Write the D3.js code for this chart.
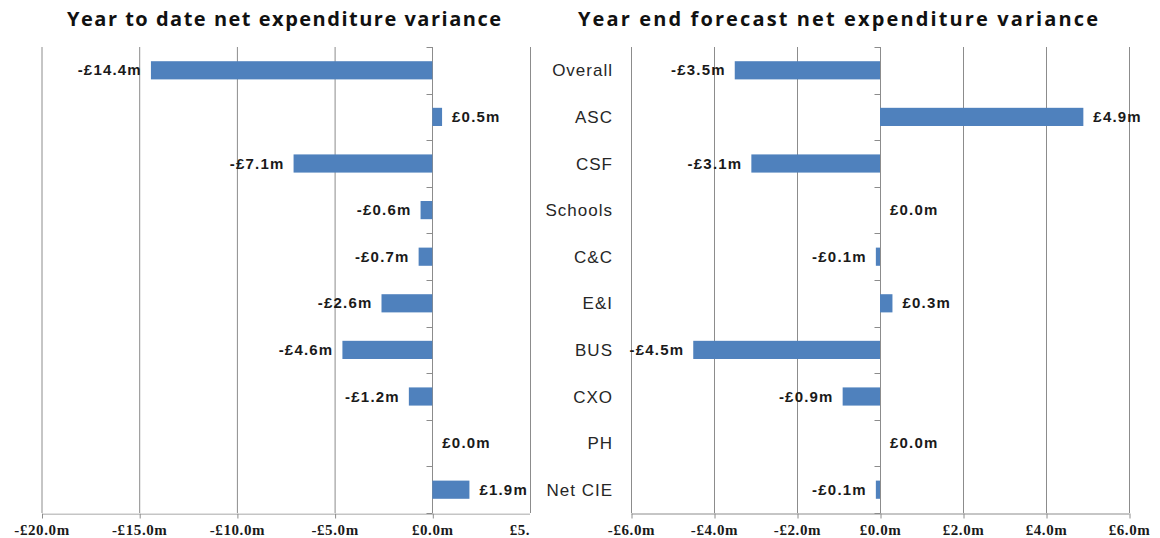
<!DOCTYPE html>
<html>
<head>
<meta charset="utf-8">
<script src="https://cdn.jsdelivr.net/npm/d3@7"></script>
<style>
  body { margin: 0; background: #fff; }
  svg { display: block; }
</style>
</head>
<body>
<div id="chart"></div>
<script>
// ---- data ----
const categories = ["Overall", "ASC", "CSF", "Schools", "C&C", "E&I", "BUS", "CXO", "PH", "Net CIE"];
const ytdValues = [-14.4, 0.5, -7.1, -0.6, -0.7, -2.6, -4.6, -1.2, 0.0, 1.9];
const forecastValues = [-3.5, 4.9, -3.1, 0.0, -0.1, 0.3, -4.5, -0.9, 0.0, -0.1];
const ytdTicks = [-20, -15, -10, -5, 0, 5];
const forecastTicks = [-6, -4, -2, 0, 2, 4, 6];
const ytdTitle = "Year to date net expenditure variance";
const forecastTitle = "Year end forecast net expenditure variance";

const width = 1160, height = 538;
const plotTop = 47, plotBottom = 513;
const barColor = "#4f81bd";
const gridColor = "#8c8c8c";

const svg = d3.select("#chart")
  .append("svg")
    .attr("width", width)
    .attr("height", height);

svg.append("rect").attr("width", width).attr("height", height).attr("fill", "#fff");

// money format, e.g. -£14.4m
function money(v) {
  let s = "£" + Math.abs(v).toFixed(1) + "m";
  return v < 0 ? "-" + s : s;
}

svg.append("defs").append("clipPath")
    .attr("id", "leftClip")
  .append("rect")
    .attr("x", 0).attr("y", 0)
    .attr("width", 530).attr("height", height);

function drawPanel(values, ticks, xRange, title, titleX, titleW, clip) {
  let g = svg.append("g");

  let x = d3.scaleLinear()
    .domain([ticks[0], ticks[ticks.length - 1]])
    .range(xRange);

  // band without padding -> boundaries for the small ticks
  let yBand = d3.scaleBand()
    .domain(categories)
    .range([plotTop, plotBottom]);

  // bars
  let y = d3.scaleBand()
    .domain(categories)
    .range([plotTop, plotBottom])
    .paddingInner(0.61)
    .paddingOuter(0.305);

  // vertical gridlines (not at zero)
  g.selectAll(".grid")
    .data(ticks.filter(t => t !== 0))
    .enter()
    .append("line")
      .attr("x1", d => x(d) + 0.5)
      .attr("x2", d => x(d) + 0.5)
      .attr("y1", plotTop)
      .attr("y2", plotBottom)
      .attr("stroke", gridColor)
      .attr("stroke-width", 1);

  // bottom axis
  let axisG = g.append("g")
    .attr("transform", "translate(0," + (plotBottom + 0.5) + ")")
    .call(d3.axisBottom(x)
      .tickValues(ticks)
      .tickFormat(money)
      .tickSize(5)
      .tickSizeOuter(0)
      .tickPadding(6));
  axisG.select(".domain").attr("stroke", gridColor);
  axisG.selectAll(".tick line").attr("stroke", gridColor).attr("transform", "translate(0.5,0)");
  axisG.selectAll(".tick text")
    .attr("font-family", "Liberation Serif, serif")
    .attr("font-weight", "bold")
    .attr("font-size", 15)
    .attr("letter-spacing", "0.6px")
    .attr("fill", "#1a1a1a");
  if (clip) axisG.attr("clip-path", "url(#leftClip)");

  // zero axis with small ticks at band boundaries
  let x0 = Math.round(x(0)) + 0.5;
  g.append("line")
    .attr("x1", x0).attr("x2", x0)
    .attr("y1", plotTop).attr("y2", plotBottom)
    .attr("stroke", gridColor);
  let bounds = categories.map(c => yBand(c)).concat([plotBottom]);
  g.selectAll(".ytick")
    .data(bounds)
    .enter()
    .append("line")
      .attr("x1", x0 - 6).attr("x2", x0)
      .attr("y1", d => Math.round(d) + 0.5)
      .attr("y2", d => Math.round(d) + 0.5)
      .attr("stroke", gridColor);

  // bars
  g.selectAll(".bar")
    .data(values)
    .enter()
    .append("rect")
      .attr("x", d => x(Math.min(0, d)))
      .attr("width", d => Math.abs(x(d) - x(0)))
      .attr("y", (d, i) => y(categories[i]))
      .attr("height", y.bandwidth())
      .attr("fill", barColor);

  // data labels
  g.selectAll(".lbl")
    .data(values)
    .enter()
    .append("text")
      .attr("x", d => d < 0 ? x(d) - 9 : x(d) + 10)
      .attr("y", (d, i) => y(categories[i]) + y.bandwidth() / 2 + 5)
      .attr("text-anchor", d => d < 0 ? "end" : "start")
      .attr("font-family", "Liberation Sans, Arial, sans-serif")
      .attr("font-weight", "bold")
      .attr("font-size", 15)
      .attr("letter-spacing", "1.2px")
      .attr("fill", "#1a1a1a")
      .text(money);

  // title
  svg.append("text")
    .attr("x", titleX)
    .attr("y", 26)
    .attr("text-anchor", "middle")
    .attr("font-family", "Open Sans, Lato, sans-serif")
    .attr("font-weight", "bold")
    .attr("font-size", 20)
    .attr("textLength", titleW)
    .attr("lengthAdjust", "spacing")
    .attr("fill", "#111")
    .text(title);

  return y;
}

drawPanel(ytdValues, ytdTicks, [41.5, 530], ytdTitle, 284, 434, true);
let yRight = drawPanel(forecastValues, forecastTicks, [631, 1129], forecastTitle, 838, 520, false);

// category labels between the two panels
svg.selectAll(".cat")
  .data(categories)
  .enter()
  .append("text")
    .attr("x", 613)
    .attr("y", d => yRight(d) + yRight.bandwidth() / 2 + 6)
    .attr("text-anchor", "end")
    .attr("font-family", "Liberation Sans, Arial, sans-serif")
    .attr("font-size", 17)
    .attr("letter-spacing", "1px")
    .attr("fill", "#262626")
    .text(d => d);
</script>
</body>
</html>
